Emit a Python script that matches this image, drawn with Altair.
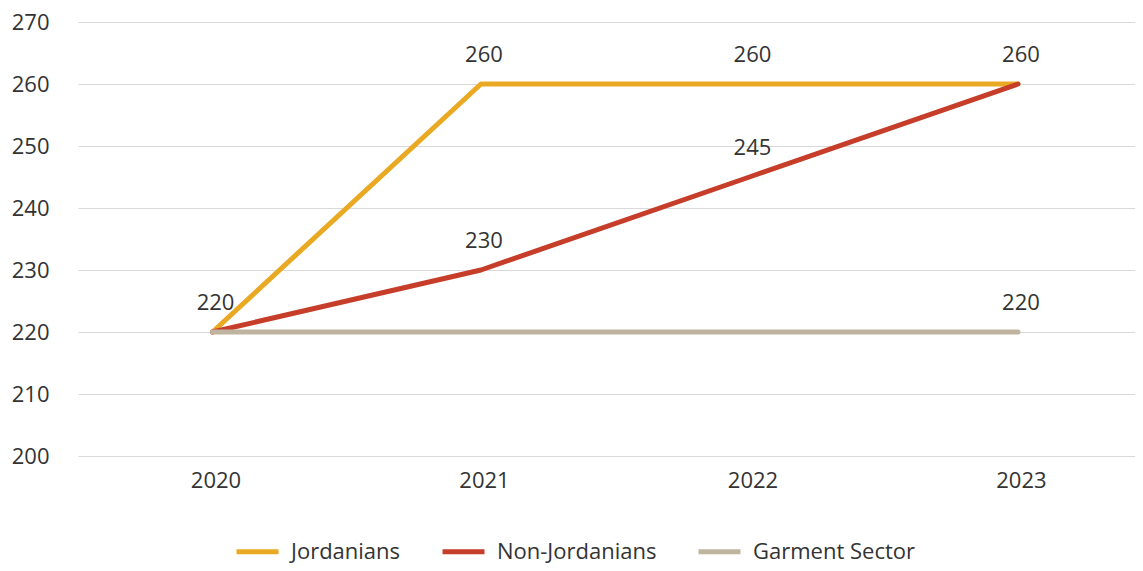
import altair as alt
import pandas as pd

years = [2020, 2021, 2022, 2023]
series_names = ["Jordanians", "Non-Jordanians", "Garment Sector"]
jordanians = [220, 260, 260, 260]
non_jordanians = [220, 230, 245, 260]
garment = [220, 220, 220, 220]
# which points carry a visible value label
label_jordanians = [False, True, True, True]
label_non_jordanians = [True, True, True, False]
label_garment = [False, False, False, True]
colors = ["#E9A922", "#C63D2A", "#BFB4A0"]

rows = []
for name, vals, labs in zip(series_names,
                            [jordanians, non_jordanians, garment],
                            [label_jordanians, label_non_jordanians, label_garment]):
    for y, v, l in zip(years, vals, labs):
        rows.append({"year": y, "value": v, "series": name, "label": l})
df = pd.DataFrame(rows)

FONT = "Open Sans"
FS = 22

x_enc = alt.X("year:Q",
              scale=alt.Scale(domain=[2019.499, 2023.436], nice=False, zero=False),
              axis=alt.Axis(values=years, format="d", title=None, grid=False,
                            domain=False, ticks=False, labelPadding=14, labelOffset=3,
                            labelFontSize=FS, labelColor="#333333", labelFont=FONT))
y_enc = alt.Y("value:Q",
              scale=alt.Scale(domain=[200, 270], nice=False, zero=False),
              axis=alt.Axis(values=list(range(200, 271, 10)), title=None,
                            domain=False, ticks=False, labelPadding=29,
                            labelFontSize=FS, labelColor="#333333", labelFont=FONT,
                            gridColor="#D9D9D9", gridWidth=1))

color_enc = alt.Color("series:N",
                      scale=alt.Scale(domain=series_names, range=colors),
                      legend=alt.Legend(title=None, orient="none", direction="horizontal",
                                        legendX=156, legendY=506,
                                        symbolType="stroke", symbolSize=1760,
                                        symbolStrokeWidth=5, labelFontSize=FS,
                                        labelFont=FONT, labelColor="#333333",
                                        labelOffset=10, columnPadding=31, labelLimit=0))

layers = []
for name in series_names:
    layers.append(
        alt.Chart(df[df.series == name]).mark_line(
            strokeWidth=5, strokeCap="round", strokeJoin="round"
        ).encode(x=x_enc, y=y_enc, color=color_enc)
    )

labels = alt.Chart(df[df.label]).mark_text(
    dy=-29, dx=3, fontSize=FS, font=FONT, color="#333333", baseline="middle"
).encode(x=x_enc, y=y_enc, text=alt.Text("value:Q", format="d"))

chart = alt.layer(*layers, labels).properties(
    width=1057, height=434,
    padding={"left": 70, "top": 14, "right": 0, "bottom": 107},
    autosize=alt.AutoSizeParams(type="none"),
).configure_view(stroke=None)

chart.save("out.html", embed_options={"renderer": "svg", "actions": False})
